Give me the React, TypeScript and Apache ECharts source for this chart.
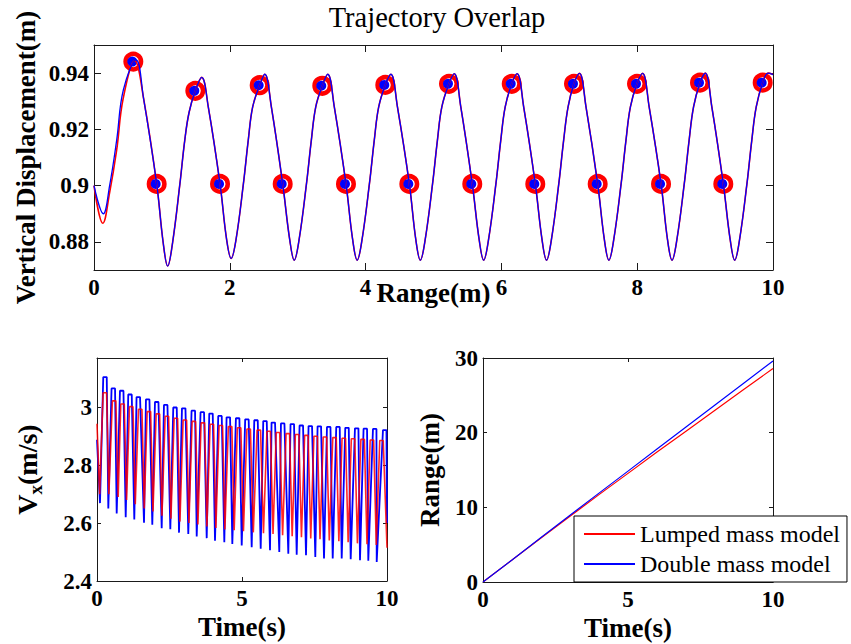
import React, { useEffect, useRef } from "react";
import * as echarts from "echarts";

const FONT = "Liberation Serif";
const RED = "#ff0000";
const BLUE = "#0000ff";
const AXIS = "#1a1a1a";

// ---------- Top: Trajectory Overlap (Range vs Vertical Displacement) ----------
const trajDoubleHeadX = [0, 0.137, 0.23, 0.334, 0.432, 0.62];
const trajDoubleHeadY = [0.9, 0.89, 0.9, 0.9162, 0.934, 0.9447];
const trajLumpedHeadX = [0, 0.13, 0.23, 0.334, 0.43, 0.6];
const trajLumpedHeadY = [0.9, 0.8866, 0.8975, 0.9127, 0.931, 0.9444];
const trajTailX = [
  0.73, 0.923, 1.02, 1.085, 1.156, 1.265, 1.337, 1.4, 1.492, 1.586,
  1.683, 1.856, 1.954, 2.02, 2.091, 2.2, 2.272, 2.337, 2.44, 2.515,
  2.612, 2.779, 2.883, 2.949, 3.02, 3.129, 3.201, 3.266, 3.362, 3.442,
  3.539, 3.711, 3.81, 3.876, 3.947, 4.056, 4.128, 4.193, 4.29, 4.372,
  4.469, 4.644, 4.74, 4.806, 4.877, 4.986, 5.058, 5.123, 5.228, 5.305,
  5.402, 5.571, 5.673, 5.739, 5.81, 5.919, 5.991, 6.056, 6.152, 6.231,
  6.328, 6.499, 6.599, 6.665, 6.736, 6.845, 6.917, 6.982, 7.069, 7.149,
  7.246, 7.418, 7.517, 7.583, 7.654, 7.763, 7.835, 7.9, 7.997, 8.079,
  8.176, 8.351, 8.447, 8.513, 8.584, 8.693, 8.765, 8.83, 8.925, 9.002,
  9.099, 9.268, 9.37, 9.436, 9.507, 9.616, 9.688, 9.753, 9.848, 9.928,
  10,
];
const trajTailY = [
  0.931, 0.9006, 0.8795, 0.8714, 0.8795, 0.9006, 0.9162, 0.926, 0.9337, 0.9385,
  0.928, 0.9006, 0.8807, 0.8741, 0.8807, 0.9006, 0.9162, 0.928, 0.9357, 0.9396,
  0.928, 0.9006, 0.8807, 0.8735, 0.8807, 0.9006, 0.9162, 0.928, 0.9355, 0.9396,
  0.928, 0.9006, 0.8807, 0.8735, 0.8807, 0.9006, 0.9162, 0.928, 0.9358, 0.9396,
  0.928, 0.9006, 0.8807, 0.8735, 0.8807, 0.9006, 0.9162, 0.928, 0.9362, 0.9398,
  0.928, 0.9006, 0.8807, 0.8735, 0.8807, 0.9006, 0.9162, 0.928, 0.9362, 0.9398,
  0.928, 0.9006, 0.8807, 0.8735, 0.8807, 0.9006, 0.9162, 0.928, 0.9362, 0.9399,
  0.928, 0.9006, 0.8807, 0.8735, 0.8807, 0.9006, 0.9162, 0.928, 0.9362, 0.9399,
  0.928, 0.9006, 0.8807, 0.8735, 0.8807, 0.9006, 0.9162, 0.928, 0.9366, 0.94,
  0.928, 0.9006, 0.8807, 0.8735, 0.8807, 0.9006, 0.9162, 0.928, 0.9366, 0.94,
  0.9395,
];
const crestX = [0.579, 1.492, 2.44, 3.362, 4.29, 5.228, 6.152, 7.069, 7.997, 8.925, 9.848];
const crestY = [0.9441, 0.9337, 0.9357, 0.9355, 0.9358, 0.9362, 0.9362, 0.9362, 0.9362, 0.9366, 0.9366];
const midX = [0.923, 1.856, 2.779, 3.711, 4.644, 5.571, 6.499, 7.418, 8.351, 9.268];
const midY = [0.9006, 0.9006, 0.9006, 0.9006, 0.9006, 0.9006, 0.9006, 0.9006, 0.9006, 0.9006];
const topXTicks = [0, 2, 4, 6, 8, 10];
const topYTicks = [0.88, 0.9, 0.92, 0.94];

// ---------- Bottom-left: Vx vs Time ----------
const vxDoubleStart = [0, 2.888];
const vxDoubleEnd = [10, 2.6];
const vxDoubleTopT = [0.276, 0.562, 0.852, 1.138, 1.424, 1.748, 2.059, 2.369, 2.69, 2.99, 3.321, 3.631, 3.931, 4.241, 4.528, 4.85, 5.17, 5.483, 5.793, 6.079, 6.403, 6.734, 7.045, 7.355, 7.666, 7.99, 8.31, 8.621, 8.955, 9.252, 9.576, 9.921];
const vxDoubleTopV = [3.104, 3.065, 3.057, 3.044, 3.035, 3.027, 3.018, 3.008, 2.999, 2.996, 2.988, 2.983, 2.978, 2.97, 2.965, 2.962, 2.958, 2.955, 2.952, 2.947, 2.944, 2.942, 2.937, 2.935, 2.934, 2.932, 2.932, 2.929, 2.927, 2.926, 2.925, 2.921];
const vxDoubleLowT = [0.103, 0.39, 0.679, 0.99, 1.286, 1.621, 1.907, 2.231, 2.528, 2.828, 3.148, 3.438, 3.783, 4.069, 4.39, 4.666, 4.99, 5.334, 5.645, 5.966, 6.286, 6.597, 6.886, 7.207, 7.528, 7.828, 8.128, 8.438, 8.748, 9.069, 9.355, 9.645];
const vxDoubleLowV = [2.669, 2.65, 2.633, 2.62, 2.612, 2.601, 2.594, 2.582, 2.579, 2.567, 2.562, 2.554, 2.548, 2.539, 2.534, 2.528, 2.523, 2.517, 2.511, 2.506, 2.5, 2.494, 2.491, 2.489, 2.483, 2.478, 2.478, 2.478, 2.475, 2.472, 2.47, 2.466];

const vxLumpedStart = [0, 2.943];
const vxLumpedEnd = [10, 2.515];
const vxLumpedTopT = [0.27, 0.59, 0.88, 1.18, 1.49, 1.79, 2.1, 2.41, 2.72, 3.03, 3.34, 3.65, 3.96, 4.27, 4.59, 4.9, 5.23, 5.58, 5.92, 6.24, 6.58, 6.9, 7.22, 7.54, 7.86, 8.19, 8.51, 8.83, 9.16, 9.48, 9.81];
const vxLumpedTopV = [3.05, 3.022, 3.011, 3.002, 2.993, 2.985, 2.977, 2.969, 2.962, 2.956, 2.951, 2.946, 2.941, 2.937, 2.933, 2.929, 2.925, 2.921, 2.917, 2.913, 2.909, 2.906, 2.903, 2.9, 2.897, 2.895, 2.893, 2.891, 2.889, 2.887, 2.885];
const vxLumpedLowT = [0.09, 0.41, 0.73, 1.02, 1.32, 1.63, 1.93, 2.24, 2.55, 2.86, 3.17, 3.48, 3.79, 4.1, 4.41, 4.73, 5.05, 5.39, 5.74, 6.07, 6.4, 6.73, 7.05, 7.37, 7.69, 8.01, 8.34, 8.66, 8.98, 9.31, 9.63];
const vxLumpedLowV = [2.7, 2.7, 2.69, 2.68, 2.665, 2.65, 2.64, 2.625, 2.615, 2.605, 2.6, 2.595, 2.588, 2.583, 2.578, 2.575, 2.572, 2.568, 2.565, 2.562, 2.558, 2.555, 2.551, 2.547, 2.544, 2.54, 2.537, 2.534, 2.53, 2.527, 2.524];
const vxTimeTicks = [0, 5, 10];
const vxTicks = [2.4, 2.6, 2.8, 3];

// ---------- Bottom-right: Range vs Time ----------
const rangeTime = [0, 1, 2, 3, 4, 5, 6, 7, 8, 9, 10];
const rangeLumped = [0, 2.95, 5.9, 8.8, 11.7, 14.55, 17.4, 20.2, 23.0, 25.8, 28.6];
const rangeDouble = [0, 2.95, 5.95, 8.95, 11.9, 14.85, 17.8, 20.75, 23.7, 26.65, 29.6];
const rangeTicks = [0, 10, 20, 30];

const zip = (xs: number[], ys: number[]) => xs.map((x, i) => [x, ys[i]]);

// square-topped saw wave from read crest centres / trough tips
const PLATEAU = 0.06;
function buildVx(start: number[], lowT: number[], lowV: number[], topT: number[], topV: number[], end: number[]) {
  const pts: number[][] = [start];
  const n = Math.max(lowT.length, topT.length);
  for (let i = 0; i < n; i++) {
    if (i < lowT.length) pts.push([lowT[i], lowV[i]]);
    if (i < topT.length) {
      pts.push([topT[i] - PLATEAU, topV[i]]);
      pts.push([Math.min(10, topT[i] + PLATEAU), topV[i]]);
    }
  }
  pts.push(end);
  return pts;
}

const fmt = (v: number) => String(+v.toFixed(2));

function axis(
  kind: "x" | "y",
  gridIndex: number,
  min: number,
  max: number,
  ticks: number[],
  position: string,
  showLabels: boolean,
  tickLen: number,
  extra: any = {}
) {
  return {
    type: "value",
    gridIndex,
    min,
    max,
    position,
    axisLine: { show: true, onZero: false, lineStyle: { color: AXIS, width: 1 } },
    axisTick: { show: true, inside: true, length: tickLen, customValues: ticks, lineStyle: { color: AXIS, width: 1 } },
    axisLabel: {
      show: showLabels,
      customValues: ticks,
      formatter: fmt,
      margin: kind === "x" ? 6 : 5,
      fontFamily: FONT,
      fontSize: 23,
      fontWeight: "bold",
      color: "#000",
    },
    splitLine: { show: false },
    nameMoveOverlap: false,
    ...extra,
  };
}

const nameStyle = { fontFamily: FONT, fontSize: 27, fontWeight: "bold", color: "#000" };

export default function App() {
  const ref = useRef<HTMLDivElement>(null);
  useEffect(() => {
    if (!ref.current) return;
    const chart = echarts.init(ref.current, undefined, { renderer: "svg" });
    const option: any = {
      animation: false,
      backgroundColor: "#fff",
      title: {
        text: "Trajectory Overlap",
        left: 432,
        textAlign: "center",
        top: -2,
        textStyle: { fontFamily: FONT, fontSize: 28.5, fontWeight: "normal", color: "#000" },
      },
      grid: [
        { left: 94, top: 45, width: 679, height: 225 },
        { left: 97, top: 358, width: 290, height: 223 },
        { left: 483, top: 358, width: 290, height: 224 },
      ],
      xAxis: [
        axis("x", 0, 0, 10, topXTicks, "bottom", true, 7, {
          name: "Range(m)",
          nameLocation: "middle",
          nameGap: 9,
          nameTextStyle: nameStyle,
        }),
        axis("x", 0, 0, 10, topXTicks, "top", false, 7),
        axis("x", 1, 0, 10, vxTimeTicks, "bottom", true, 4, {
          name: "Time(s)",
          nameLocation: "middle",
          nameGap: 32,
          nameTextStyle: nameStyle,
        }),
        axis("x", 1, 0, 10, vxTimeTicks, "top", false, 4),
        axis("x", 2, 0, 10, vxTimeTicks, "bottom", true, 4, {
          name: "Time(s)",
          nameLocation: "middle",
          nameGap: 32,
          nameTextStyle: nameStyle,
        }),
        axis("x", 2, 0, 10, vxTimeTicks, "top", false, 4),
      ],
      yAxis: [
        axis("y", 0, 0.87, 0.95, topYTicks, "left", true, 7, {
          name: "Vertical Displacement(m)",
          nameLocation: "middle",
          nameGap: 55,
          nameRotate: 90,
          nameTextStyle: nameStyle,
        }),
        axis("y", 0, 0.87, 0.95, topYTicks, "right", false, 7),
        axis("y", 1, 2.4, 3.17, vxTicks, "left", true, 4, {
          name: "{a|V}{b|x}{a|(m/s)}",
          nameLocation: "middle",
          nameGap: 52,
          nameRotate: 90,
          nameTextStyle: {
            ...nameStyle,
            rich: {
              a: { fontFamily: FONT, fontSize: 28, fontWeight: "bold", color: "#000", lineHeight: 30 },
              b: { fontFamily: FONT, fontSize: 19, fontWeight: "bold", color: "#000", padding: [16, 0, 0, 0] },
            },
          },
        }),
        axis("y", 1, 2.4, 3.17, vxTicks, "right", false, 4),
        axis("y", 2, 0, 30, rangeTicks, "left", true, 4, {
          name: "Range(m)",
          nameLocation: "middle",
          nameGap: 40,
          nameRotate: 90,
          nameTextStyle: nameStyle,
        }),
        axis("y", 2, 0, 30, rangeTicks, "right", false, 4),
      ],
      legend: {
        data: ["Lumped mass model", "Double mass model"],
        orient: "vertical",
        left: 574,
        top: 516,
        itemWidth: 51,
        itemHeight: 2,
        icon: "rect",
        itemGap: 4,
        padding: [5, 7, 5, 10],
        borderColor: "#000",
        borderWidth: 1,
        borderRadius: 0,
        backgroundColor: "#fff",
        textStyle: { fontFamily: FONT, fontSize: 24, color: "#000", lineHeight: 26 },
      },
      series: [
        // top
        {
          name: "Lumped trajectory",
          type: "line",
          xAxisIndex: 0,
          yAxisIndex: 0,
          data: zip(trajLumpedHeadX.concat(trajTailX), trajLumpedHeadY.concat(trajTailY)),
          smooth: 0.4,
          symbol: "none",
          lineStyle: { color: RED, width: 1.6 },
        },
        {
          name: "Double trajectory",
          type: "line",
          xAxisIndex: 0,
          yAxisIndex: 0,
          data: zip(trajDoubleHeadX.concat(trajTailX), trajDoubleHeadY.concat(trajTailY)),
          smooth: 0.4,
          symbol: "none",
          lineStyle: { color: BLUE, width: 1.3 },
        },
        {
          name: "Lumped events",
          type: "scatter",
          xAxisIndex: 0,
          yAxisIndex: 0,
          data: zip(crestX, crestY).concat(zip(midX, midY)),
          symbol: "circle",
          symbolSize: 15.5,
          clip: false,
          itemStyle: { color: "#fff", borderColor: RED, borderWidth: 4.5, opacity: 1 },
        },
        {
          name: "Double events",
          type: "scatter",
          xAxisIndex: 0,
          yAxisIndex: 0,
          data: zip(crestX, crestY).concat(zip(midX, midY)),
          symbol: "circle",
          symbolSize: 10,
          symbolOffset: [-1, 0],
          clip: false,
          itemStyle: { color: BLUE, opacity: 1 },
        },
        // bottom-left
        {
          name: "Double Vx",
          type: "line",
          xAxisIndex: 2,
          yAxisIndex: 2,
          data: buildVx(vxDoubleStart, vxDoubleLowT, vxDoubleLowV, vxDoubleTopT, vxDoubleTopV, vxDoubleEnd),
          symbol: "none",
          lineStyle: { color: BLUE, width: 1.8 },
        },
        {
          name: "Lumped Vx",
          type: "line",
          xAxisIndex: 2,
          yAxisIndex: 2,
          data: buildVx(vxLumpedStart, vxLumpedLowT, vxLumpedLowV, vxLumpedTopT, vxLumpedTopV, vxLumpedEnd),
          symbol: "none",
          lineStyle: { color: RED, width: 1.6, opacity: 0.85 },
        },
        // bottom-right
        {
          name: "Lumped mass model",
          type: "line",
          xAxisIndex: 4,
          yAxisIndex: 4,
          data: zip(rangeTime, rangeLumped),
          symbol: "none",
          itemStyle: { color: RED },
          lineStyle: { color: RED, width: 1.2 },
        },
        {
          name: "Double mass model",
          type: "line",
          xAxisIndex: 4,
          yAxisIndex: 4,
          data: zip(rangeTime, rangeDouble),
          symbol: "none",
          itemStyle: { color: BLUE },
          lineStyle: { color: BLUE, width: 1.2 },
        },
      ],
    };
    chart.setOption(option);
    return () => chart.dispose();
  }, []);
  return (
    <div
      ref={ref}
      style={{ position: "fixed", left: 0, top: 0, width: 851, height: 644, background: "#fff" }}
    />
  );
}
